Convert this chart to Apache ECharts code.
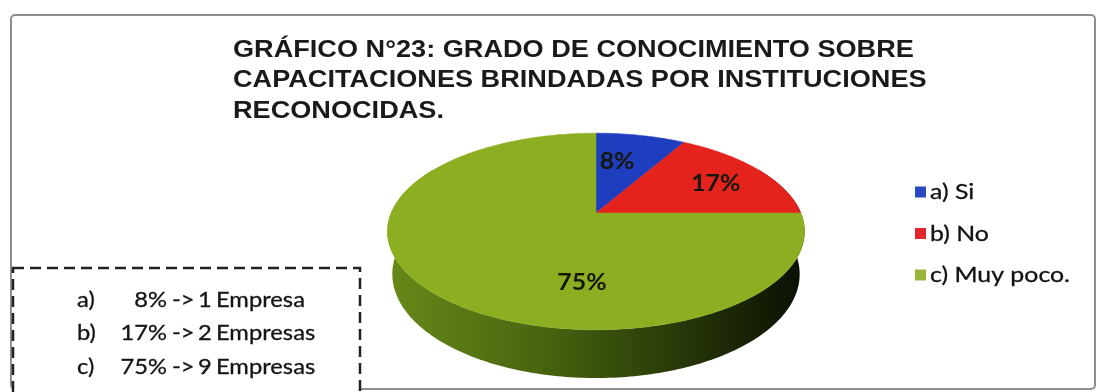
<!DOCTYPE html>
<html>
<head>
<meta charset="utf-8">
<script src="https://cdn.jsdelivr.net/npm/echarts@6/dist/echarts.min.js"></script>
<style>
  html, body { margin: 0; padding: 0; background: #ffffff; }
  #chart { width: 1097px; height: 392px; }
</style>
</head>
<body>
<div id="chart"></div>
<script>
// ---- data ----
const categories = ['a) Si', 'b) No', 'c) Muy poco.'];
const companies = [1, 2, 9];
const rowLetters = ['a)', 'b)', 'c)'];
const titleLines = [
  'GRÁFICO N°23: GRADO DE CONOCIMIENTO SOBRE',
  'CAPACITACIONES BRINDADAS POR INSTITUCIONES',
  'RECONOCIDAS.'
];

// ---- styling ----
const sliceColors = ['#1f3dbf', '#e3231c', '#8eae22'];
const legendColors = ['#2a48c0', '#e3262b', '#98b43a'];
const wallStops = [
  { offset: 0, color: '#678a18' },
  { offset: 0.35, color: '#4a6710' },
  { offset: 0.7, color: '#283808' },
  { offset: 1, color: '#0a0f03' }
];
// label placement inside each slice: fraction of the slice sweep, radius fraction
const labelPlacement = [
  { t: 0.36, r: 0.61 },
  { t: 0.54, r: 0.70 },
  { t: 0.353, r: 0.65 }
];
const stretch = 1.13;

// perspective view of the tilted disc
const view = { cx: 596, cy: 213, F: 967, D0: 4.72, tilt: Math.asin(0.463), H: 0.237 };
const sinT = Math.sin(view.tilt), cosT = Math.cos(view.tilt);
function project(theta, Y, r) {
  const X = r * Math.sin(theta);
  const Z = -r * Math.cos(theta);
  const yc = Y * cosT - Z * sinT;
  const zc = Y * sinT + Z * cosT;
  const D = view.D0 - zc;
  return [view.cx + view.F * X / D, view.cy - view.F * yc / D];
}

const total = companies.reduce((a, b) => a + b, 0);
const percents = companies.map(v => Math.round(v / total * 100));
const startAngles = [];
companies.reduce((acc, v, i) => { startAngles[i] = acc; return acc + v / total * Math.PI * 2; }, 0);

function arcPoints(a0, a1, Y) {
  const pts = [];
  const n = Math.max(2, Math.ceil((a1 - a0) / (Math.PI / 180)));
  for (let k = 0; k <= n; k++) pts.push(project(a0 + (a1 - a0) * k / n, Y, 1));
  return pts;
}

const wallFill = new echarts.graphic.LinearGradient(386, 0, 806, 0, wallStops, true);

function renderSlice(params, api) {
  const i = params.dataIndex;
  const a0 = startAngles[i];
  const a1 = a0 + api.value(0) / total * Math.PI * 2;
  const children = [];

  // visible outer wall (front part of the cylinder)
  const w0 = Math.max(a0, Math.PI / 3), w1 = Math.min(a1, Math.PI * 5 / 3);
  if (w1 > w0) {
    const top = arcPoints(w0, w1, 0);
    const bottom = arcPoints(w0, w1, -view.H).reverse();
    children.push({
      type: 'polygon', z2: 1 + i,
      shape: { points: top.concat(bottom) },
      style: { fill: wallFill, stroke: null }
    });
  }

  // top face
  const face = [project(0, 0, 0)].concat(arcPoints(a0, a1, 0));
  children.push({
    type: 'polygon', z2: 10,
    shape: { points: face },
    style: { fill: sliceColors[i], stroke: sliceColors[i], lineWidth: 0.5 }
  });

  // value label
  const lp = labelPlacement[i];
  const p = project(a0 + (a1 - a0) * lp.t, 0, lp.r);
  children.push({
    type: 'text', z2: 20, x: p[0], y: p[1], scaleX: stretch,
    style: {
      text: percents[i] + '%',
      font: 'bold 22px Lato, "Open Sans", sans-serif',
      fill: '#141808',
      align: 'center', verticalAlign: 'middle',
      textAlign: 'center', textVerticalAlign: 'middle'
    }
  });
  return { type: 'group', children };
}

// ---- decorations: frame, title, legend, summary box ----
const graphics = [];
graphics.push({
  type: 'rect', z: 1,
  shape: { x: 11, y: 15, width: 1084, height: 374, r: 4 },
  style: { fill: null, stroke: '#8e8e8e', lineWidth: 2 }
});
titleLines.forEach((line, k) => {
  graphics.push({
    type: 'text', z: 5, x: 233, y: 50 + k * 30.5, scaleX: stretch,
    style: {
      text: line, font: 'bold 24px "Liberation Sans", Arial, sans-serif', fill: '#1a1a1a',
      align: 'left', verticalAlign: 'middle', textAlign: 'left', textVerticalAlign: 'middle'
    }
  });
});
categories.forEach((name, k) => {
  const y = 192 + k * 41.5;
  graphics.push({
    type: 'rect', z: 5,
    shape: { x: 915, y: y - 5.5, width: 11, height: 11 },
    style: { fill: legendColors[k] }
  });
  graphics.push({
    type: 'text', z: 5, x: 930, y: y, scaleX: stretch,
    style: {
      text: name, font: '22px Lato, "Open Sans", sans-serif', fill: '#111111',
      stroke: '#111111', lineWidth: 0.3,
      align: 'left', verticalAlign: 'middle', textAlign: 'left', textVerticalAlign: 'middle'
    }
  });
});
graphics.push({
  type: 'rect', z: 6,
  shape: { x: 13, y: 268, width: 347, height: 140 },
  style: { fill: '#ffffff', stroke: '#222222', lineWidth: 2.5, lineDash: [11, 6] }
});
const rowFont = '21px Lato, "Open Sans", sans-serif';
companies.forEach((v, k) => {
  const y = 300 + k * 33.5;
  const word = v === 1 ? 'Empresa' : 'Empresas';
  [
    { x: 77, text: rowLetters[k], align: 'left' },
    { x: 167, text: percents[k] + '%', align: 'right' },
    { x: 172, text: '->', align: 'left' },
    { x: 198, text: String(v), align: 'left' },
    { x: 216, text: word, align: 'left' }
  ].forEach(part => {
    graphics.push({
      type: 'text', z: 7, x: part.x, y: y, scaleX: stretch,
      style: {
        text: part.text, font: rowFont, fill: '#141414',
        stroke: '#141414', lineWidth: 0.3,
        align: part.align, verticalAlign: 'middle',
        textAlign: part.align, textVerticalAlign: 'middle'
      }
    });
  });
});

const chart = echarts.init(document.getElementById('chart'), null, { renderer: 'canvas' });
chart.setOption({
  backgroundColor: '#ffffff',
  animation: false,
  graphic: { elements: graphics },
  series: [{
    type: 'custom',
    name: 'Conocimiento',
    coordinateSystem: 'none',
    renderItem: renderSlice,
    data: companies.map((v, i) => ({ value: v, name: categories[i] }))
  }]
});
</script>
</body>
</html>
